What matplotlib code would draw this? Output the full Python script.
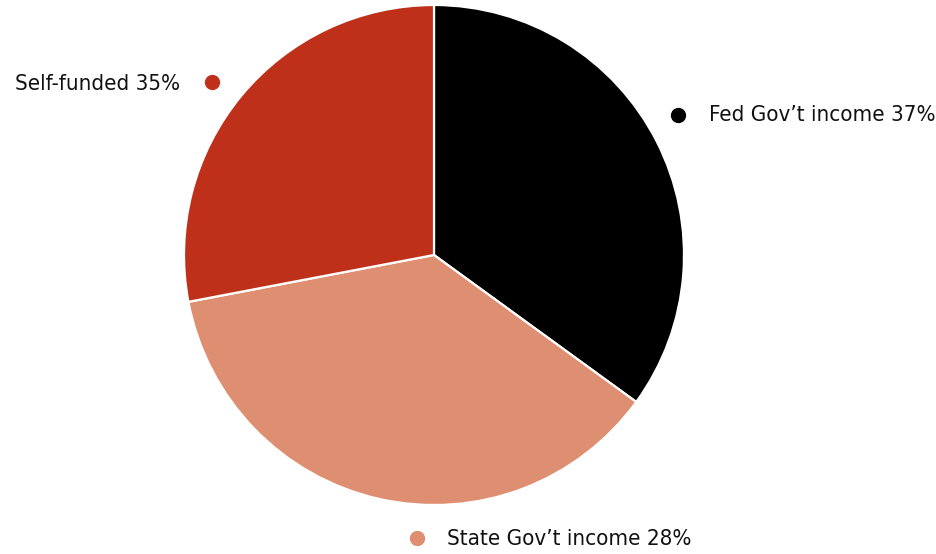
import matplotlib.pyplot as plt

# スライスの値（図から読み取り、時計回りに上から）
slice_names = ['Fed Gov’t income', 'State Gov’t income', 'Self-funded']
slice_values = [35, 37, 28]
slice_colors = ['#000000', '#DF8F71', '#BE3019']

# ラベルに書かれた割合
label_pcts = [37, 28, 35]

plt.rcParams['font.family'] = ['DejaVu Sans']
plt.rcParams['font.stretch'] = 'condensed'

fig = plt.figure(figsize=(9.37, 5.54), dpi=100)
ax = fig.add_axes([0, 0, 1, 1])

ax.pie(slice_values, colors=slice_colors, startangle=90, counterclock=False,
       radius=1.0, wedgeprops={'edgecolor': 'white', 'linewidth': 1.6})

# ラベル位置（データ座標、半径1）
dot_pos = [(0.976, 0.56), (-0.068, -1.132), (-0.888, 0.692)]
text_pos = [(1.10, 0.56, 'left'), (0.052, -1.136, 'left'), (-1.016, 0.684, 'right')]

for name, pct, col, (dx, dy), (tx, ty, ha) in zip(slice_names, label_pcts,
                                                   slice_colors, dot_pos, text_pos):
    ax.plot(dx, dy, 'o', color=col, markersize=10, clip_on=False)
    ax.text(tx, ty, f'{name} {pct}%', ha=ha, va='center', fontsize=16,
            fontstretch='condensed', color='#111111')

ax.set_xlim(-434 / 250, (937 - 434) / 250)
ax.set_ylim(-(554 - 255) / 250, 255 / 250)
ax.set_aspect('equal')
ax.axis('off')

fig.savefig('out.png', dpi=100)
